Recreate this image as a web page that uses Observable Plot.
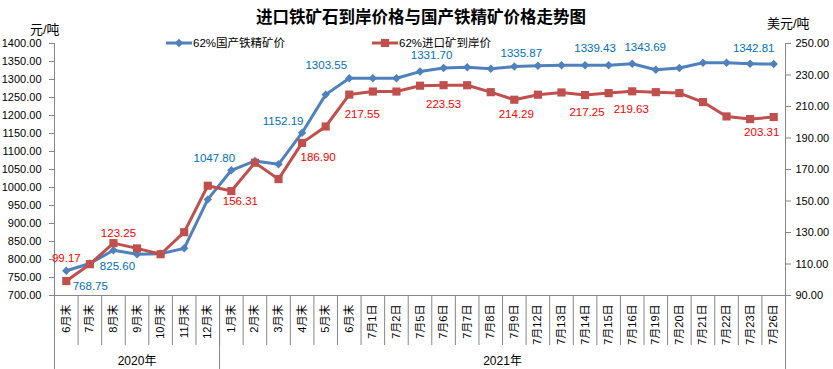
<!DOCTYPE html>
<html>
<head>
<meta charset="utf-8">
<script src="https://cdn.jsdelivr.net/npm/d3@7"></script>
<script src="https://cdn.jsdelivr.net/npm/@observablehq/plot@0.6"></script>
<style>
  html, body { margin: 0; padding: 0; background: #fff; }
  #chart { width: 833px; height: 369px; overflow: hidden; }
</style>
</head>
<body>
<div id="chart"></div>
<script>
// ---- data ----
const categories = ["6月末","7月末","8月末","9月末","10月末","11月末","12月末",
  "1月末","2月末","3月末","4月末","5月末","6月末",
  "7月1日","7月2日","7月5日","7月6日","7月7日","7月8日","7月9日","7月12日","7月13日",
  "7月14日","7月15日","7月16日","7月19日","7月20日","7月21日","7月22日","7月23日","7月26日"];
const domestic = [768.75, 789, 825.60, 814.5, 816, 831, 967, 1047.80, 1073.7, 1064.5, 1152.19,
  1258, 1303.55, 1303.6, 1303.6, 1322, 1331.70, 1334, 1330, 1335.87, 1338, 1339.5,
  1339.43, 1339.5, 1343.69, 1327, 1332, 1346.5, 1346.5, 1344, 1342.81];
const imported = [99.17, 109.9, 123.25, 119.9, 116.2, 130.2, 159.7, 156.31, 174.3, 163.9, 186.90,
  197.3, 217.55, 219.5, 219.5, 223.2, 223.53, 223.5, 219.1, 214.29, 217.5, 218.9,
  217.25, 218.5, 219.63, 219.1, 218.5, 212.8, 203.7, 202, 203.31];
const labelIndex = [0, 2, 7, 10, 12, 16, 19, 22, 24, 30];
const leftTicks = [700,750,800,850,900,950,1000,1050,1100,1150,1200,1250,1300,1350,1400];
const rightTicks = [90,110,130,150,170,190,210,230,250];
const years = [{at: 3, label: "2020年"}, {at: 18.5, label: "2021年"}];
const seriesNames = ["62%国产铁精矿价", "62%进口矿到岸价"];

// ---- label layout (offsets from the point, px) ----
const blueOffsets = [[24,16],[4,16],[-17,-12],[-19,-11],[-23,-13],[-12,-13],[7,-13],[10,-17],[13,-16],[-20,-16]];
const redOffsets  = [[0,-23],[5,-10],[9,10],[16,14],[13,20],[0,19],[2,15],[2,17],[-1,18],[-12,15]];

// secondary axis mapping onto the primary scale
const L0 = 700, L1 = 1400, R0 = 90, R1 = 250;
const toLeft = r => L0 + (r - R0) * (L1 - L0) / (R1 - R0);
const fromLeft = l => R0 + (l - L0) * (R1 - R0) / (L1 - L0);

const BLUE = "#4F81BD", RED = "#C0504D", AXIS = "#868686";
const idx = d3.range(categories.length);
const FONT = "'Liberation Sans', 'Noto Sans CJK SC', sans-serif";

const marks = [
  Plot.ruleX([-0.5], {stroke: AXIS}),
  Plot.ruleX([categories.length - 0.5], {stroke: AXIS}),
  Plot.ruleY([L0], {stroke: AXIS}),
  Plot.axisY(leftTicks, {anchor: "left", tickSize: 5, tickPadding: 8, stroke: AXIS,
    tickFormat: d => d.toFixed(2), fontSize: 11}),
  Plot.axisY(rightTicks.map(toLeft), {anchor: "right", tickSize: 5, tickPadding: 5, stroke: AXIS,
    tickFormat: d => fromLeft(d).toFixed(2), fontSize: 11}),
  Plot.axisX(d3.range(categories.length + 1).map(i => i - 0.5), {tickSize: 50, stroke: AXIS, tickFormat: () => ""}),
  Plot.axisX([-0.5, 6.5, categories.length - 0.5], {tickSize: 80, stroke: AXIS, tickFormat: () => ""}),
  Plot.axisX(idx, {tickSize: 0, tickPadding: 9, tickRotate: -90, tickFormat: i => categories[i], fontSize: 11}),
  Plot.axisX(years.map(d => d.at), {tickSize: 0, tickPadding: 61, fontSize: 12,
    tickFormat: v => years.find(d => d.at === v).label}),
  Plot.line(idx, {x: i => i, y: i => domestic[i], stroke: BLUE, strokeWidth: 3}),
  Plot.dot(idx, {x: i => i, y: i => domestic[i], symbol: "diamond2", r: 3.8, fill: BLUE}),
  Plot.line(idx, {x: i => i, y: i => toLeft(imported[i]), stroke: RED, strokeWidth: 3}),
  Plot.dot(idx, {x: i => i, y: i => toLeft(imported[i]), symbol: "square", r: 4.6, fill: RED}),
  ...labelIndex.map((i, k) => Plot.text([i], {x: d => d, y: d => domestic[d],
    text: d => domestic[d].toFixed(2), fill: "#0070C0", fontSize: 11.5,
    dx: blueOffsets[k][0], dy: blueOffsets[k][1]})),
  ...labelIndex.map((i, k) => Plot.text([i], {x: d => d, y: d => toLeft(imported[d]),
    text: d => imported[d].toFixed(2), fill: "#FF0000", fontSize: 11.5,
    dx: redOffsets[k][0], dy: redOffsets[k][1]}))
];

const svg = Plot.plot({
  width: 833, height: 369,
  marginLeft: 54, marginRight: 48, marginTop: 43, marginBottom: 74,
  x: {type: "linear", domain: [-0.5, categories.length - 0.5], axis: null},
  y: {domain: [L0, L1], axis: null},
  style: {fontFamily: FONT, fontSize: "11px", background: "#fff", color: "#000", overflow: "visible"},
  marks
});

// title, units and legend
const s = d3.select(svg);
const deco = s.append("g").attr("text-anchor", "start").attr("font-family", FONT);
deco.append("text").attr("x", 421).attr("y", 23).attr("text-anchor", "middle")
  .attr("font-family", "'Noto Sans CJK SC', sans-serif").attr("font-weight", "bold")
  .attr("font-size", 16.5).attr("fill", "#000").text("进口铁矿石到岸价格与国产铁精矿价格走势图");
deco.append("text").attr("x", 30).attr("y", 34).attr("font-size", 13).attr("fill", "#000").text("元/吨");
deco.append("text").attr("x", 767).attr("y", 28).attr("font-size", 13).attr("fill", "#000").text("美元/吨");

function legendItem(x, color, symbol, size, name) {
  const g = deco.append("g").attr("transform", `translate(${x},43)`);
  g.append("line").attr("x1", 0).attr("y1", 0).attr("x2", 26).attr("y2", 0)
    .attr("stroke", color).attr("stroke-width", 3).attr("fill", "none");
  g.append("path").attr("transform", "translate(13,0)")
    .attr("d", d3.symbol(symbol, size)()).attr("fill", color).attr("stroke", "none");
  g.append("text").attr("x", 27).attr("y", 4).attr("text-anchor", "start")
    .attr("font-size", 11.5).attr("fill", "#000").text(name);
}
legendItem(166, BLUE, d3.symbolDiamond2, 45, seriesNames[0]);
legendItem(372, RED, d3.symbolSquare, 66, seriesNames[1]);

document.getElementById("chart").appendChild(svg);
</script>
</body>
</html>
